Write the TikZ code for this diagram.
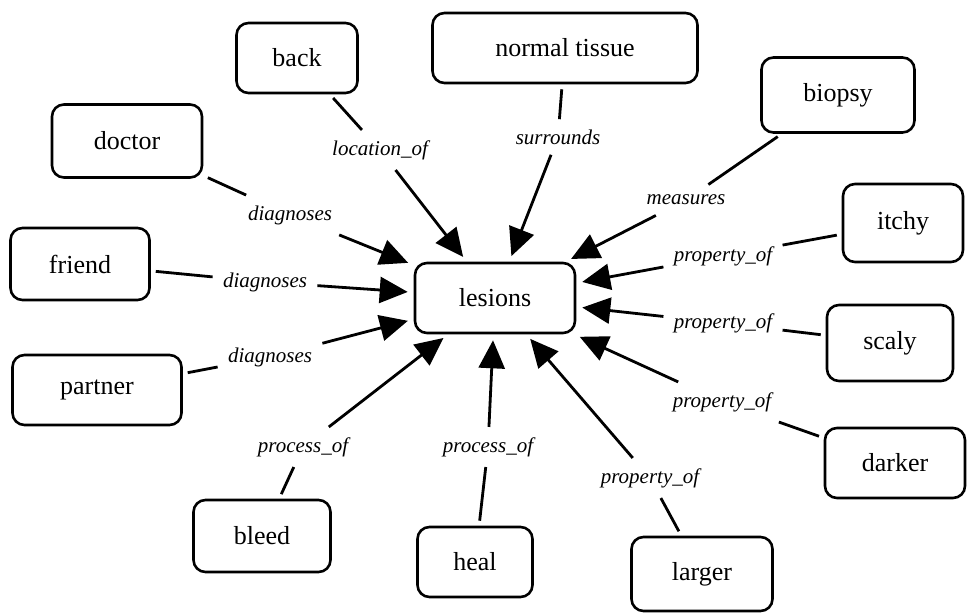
\documentclass[tikz,border=0pt]{standalone}
\usepackage{fontspec}
\setmainfont{Liberation Serif}
\usepackage{tikz}
\usetikzlibrary{arrows.meta,calc,positioning,shapes}
\newdimen\hdim
\hdim=35pt
\tikzstyle{concept}=[
  draw,
  rounded corners=6pt,
  line width=1.3pt,
  font={\fontsize{13}{15}\selectfont},
  inner sep=0pt,
  minimum height=\hdim,
  text centered,
]
\tikzstyle{relation}=[
  font={\fontsize{10.5}{12}\selectfont\itshape},
  inner sep=5pt,
]
\tikzstyle{link}=[
  line width=1.4pt,
  shorten <=2.5pt,
]
\tikzstyle{arrow}=[
  line width=1.4pt,
  -{Triangle[length=14pt,width=13pt]},
  shorten >=3pt,
]
\tikzset{
  x=0.5pt,
  y=-0.5pt,
}

\begin{document}
\begin{tikzpicture}
      \useasboundingbox (0,0) rectangle (967,613);
      \node [concept, minimum width=80pt] (LESIONS) at (495,298) {lesions};
      \node [concept, minimum width=60.5pt] (BACK) at (297,58) {back};
      \node [concept, minimum width=132.5pt] (NORMAL) at (565,48) {normal tissue};
      \node [concept, minimum width=76.5pt, minimum height=37.5pt] (BIOPSY) at (838,95) {biopsy};
      \node [concept, minimum width=60pt, minimum height=39pt] (ITCHY) at (903,223) {itchy};
      \node [concept, minimum width=75pt, minimum height=36.5pt] (DOCTOR) at (127,141) {doctor};
      \node [concept, minimum width=69.5pt, minimum height=36pt] (FRIEND) at (80,264) {friend};
      \node [concept, minimum width=84.5pt] (PARTNER) at (97,390) {partner};
      \node [concept, minimum width=68.5pt, minimum height=36pt] (BLEED) at (262,536) {bleed};
      \node [concept, minimum width=57.5pt] (HEAL) at (475,562) {heal};
      \node [concept, minimum width=63pt, minimum height=38pt] (SCALY) at (890,343) {scaly};
      \node [concept, minimum width=70pt] (DARKER) at (895,463) {darker};
      \node [concept, minimum width=70.5pt, minimum height=37pt] (LARGER) at (702,574) {larger};
      % relation labels
      \node [relation] (LOCOF) at (380,150) {location\_of};
      \node [relation] (SURR) at (558,137) {surrounds};
      \node [relation] (MEAS) at (686,200) {measures};
      \node [relation] (PROP1) at (723,256) {property\_of};
      \node [relation] (PROP2) at (723,323) {property\_of};
      \node [relation] (PROP3) at (722,402) {property\_of};
      \node [relation] (PROP4) at (650,478) {property\_of};
      \node [relation] (PROC1) at (488,447) {process\_of};
      \node [relation] (PROC2) at (303,447) {process\_of};
      \node [relation] (DIAG1) at (290,215) {diagnoses};
      \node [relation] (DIAG2) at (265,282) {diagnoses};
      \node [relation] (DIAG3) at (270,357) {diagnoses};
      % links
      \draw [link] (BACK) -- (LOCOF);
      \draw [arrow] (LOCOF) -- (LESIONS);
      \draw [link] (NORMAL) -- (SURR);
      \draw [arrow] (SURR) -- (LESIONS);
      \draw [link] (BIOPSY) -- (MEAS);
      \draw [arrow] (MEAS) -- (LESIONS);
      \draw [link] (ITCHY) -- (PROP1);
      \draw [arrow] (PROP1) -- (LESIONS);
      \draw [link] (SCALY) -- (PROP2);
      \draw [arrow] (PROP2) -- (LESIONS);
      \draw [link] (DARKER) -- (PROP3);
      \draw [arrow] (PROP3) -- (LESIONS);
      \draw [link] (LARGER) -- (PROP4);
      \draw [arrow] (PROP4) -- (LESIONS);
      \draw [link] (HEAL) -- (PROC1);
      \draw [arrow] (PROC1) -- (LESIONS);
      \draw [link] (BLEED) -- (PROC2);
      \draw [arrow] (PROC2) -- (LESIONS);
      \draw [link] (DOCTOR) -- (DIAG1);
      \draw [arrow] (DIAG1) -- (LESIONS);
      \draw [link] (FRIEND) -- (DIAG2);
      \draw [arrow] (DIAG2) -- (LESIONS);
      \draw [link] (PARTNER) -- (DIAG3);
      \draw [arrow] (DIAG3) -- (LESIONS);
    \end{tikzpicture}
\end{document}
